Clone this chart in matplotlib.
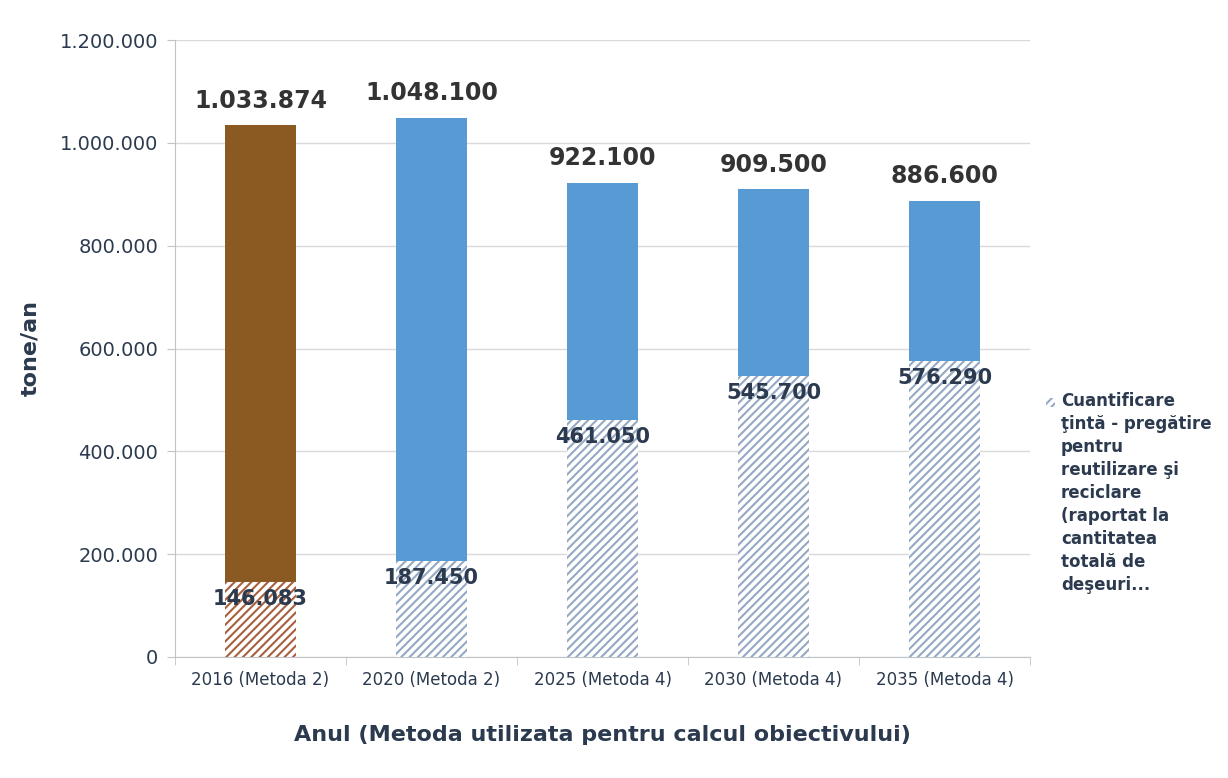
import numpy as np
import matplotlib.pyplot as plt
from matplotlib.ticker import FuncFormatter, FixedLocator
from matplotlib.patches import Rectangle

plt.rcParams.update({
    "font.family": "DejaVu Sans",
    "hatch.linewidth": 1.5,
})

categories = ["2016 (Metoda 2)", "2020 (Metoda 2)", "2025 (Metoda 4)",
              "2030 (Metoda 4)", "2035 (Metoda 4)"]
totals = [1033874, 1048100, 922100, 909500, 886600]
targets = [146083, 187450, 461050, 545700, 576290]
bar_colors = ["#8a5a22", "#589ad4", "#589ad4", "#589ad4", "#589ad4"]
hatch_colors = ["#a8603e", "#95a9c4", "#95a9c4", "#95a9c4", "#95a9c4"]
legend_lines = ["Cuantificare", "ţintă - pregătire", "pentru", "reutilizare şi",
                "reciclare", "(raportat la", "cantitatea", "totală de", "deşeuri..."]

TXT = "#2b3a4e"


def fmt(v, pos=None):
    return f"{int(v):,}".replace(",", ".")


fig = plt.figure(figsize=(12.28, 7.78), dpi=100)
ax = fig.add_axes([175 / 1228, 1 - 657 / 778, 855 / 1228, 617 / 778])

x = np.arange(len(categories))
w = 0.41
ax.bar(x, totals, width=w, color=bar_colors, zorder=2)
for xi, t, hc in zip(x, targets, hatch_colors):
    ax.bar(xi, t, width=w, color="white", edgecolor=hc, hatch="////",
           linewidth=0, zorder=3)

for xi, t in zip(x, totals):
    ax.text(xi, t + 25000, fmt(t), ha="center", va="bottom",
            fontsize=17, fontweight="bold", color="#333333", zorder=5)
for xi, t in zip(x, targets):
    ax.text(xi, t - 33000, fmt(t), ha="center", va="center",
            fontsize=15, fontweight="bold", color=TXT, zorder=5)

ax.set_xlim(-0.5, len(categories) - 0.5)
ax.set_ylim(0, 1200000)
ax.yaxis.set_major_locator(FixedLocator(np.arange(0, 1200001, 200000)))
ax.yaxis.set_major_formatter(FuncFormatter(fmt))
ax.set_xticks(x)
ax.set_xticklabels(categories)
ax.set_xticks(np.arange(-0.5, len(categories)), minor=True)
ax.tick_params(axis="x", which="major", length=0, pad=10, labelsize=12, labelcolor=TXT)
ax.tick_params(axis="x", which="minor", length=6, color="#c0c4c8")
ax.tick_params(axis="y", length=6, color="#c0c4c8", labelsize=14, labelcolor=TXT, pad=6)

ax.grid(axis="y", color="#d9d9d9", linewidth=1, zorder=0)
ax.set_axisbelow(True)
for s in ["top", "right"]:
    ax.spines[s].set_visible(False)
ax.spines["left"].set_color("#c0c4c8")
ax.spines["bottom"].set_color("#c0c4c8")

ax.set_ylabel("tone/an", fontsize=16, fontweight="bold", color=TXT, labelpad=14)
ax.set_xlabel("Anul (Metoda utilizata pentru calcul obiectivului)", fontsize=16,
              fontweight="bold", color=TXT, labelpad=26)

# legend: small hatched key aligned with the first text line
fig.patches.append(Rectangle((1046 / 1228, 1 - 407 / 778), 9 / 1228, 9 / 778,
                             transform=fig.transFigure, facecolor="white",
                             edgecolor="#95a9c4", hatch="////", linewidth=0))
fig.text(1061 / 1228, 1 - 392 / 778, "\n".join(legend_lines), ha="left", va="top",
         fontsize=12, fontweight="bold", color=TXT, linespacing=1.36)

fig.savefig("out.png", dpi=100)
